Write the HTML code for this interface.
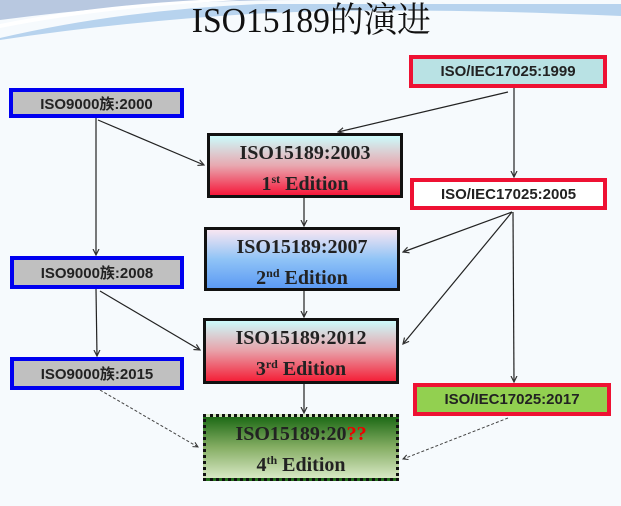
<!DOCTYPE html>
<html><head><meta charset="utf-8"><style>
body{margin:0;width:621px;height:506px;overflow:hidden;background:#f6fafd;position:relative;font-family:"Liberation Sans","Noto Sans CJK SC",sans-serif}
.b{position:absolute;box-sizing:border-box;display:flex;align-items:center;justify-content:center;font-weight:bold;font-size:15px;color:#222}
.blue{border:4px solid #0000f0;background:#c0c0c0}
.red{border:4px solid #ee1133}
.e{position:absolute;box-sizing:border-box;border:3px solid #111;font-family:"Liberation Serif",serif;font-weight:bold;color:#222;text-align:center;font-size:20px;line-height:31px;padding-top:2px}
sup{font-size:12px;line-height:0;vertical-align:7px}
.t{position:absolute;left:187px;width:240px;top:-7px;text-align:center;font-family:"Liberation Serif","Noto Serif CJK SC",serif;font-size:35px;color:#111;white-space:nowrap;transform:scaleX(0.96);transform-origin:center}
</style></head><body>
<svg width="621" height="506" style="position:absolute;left:0;top:0">
<defs><marker id="a" markerWidth="6" markerHeight="6" refX="5" refY="3" orient="auto"><path d="M0,0.5 L5,3 L0,5.5" fill="none" stroke="#333" stroke-width="1"/></marker></defs>
<path d="M0,20 Q150,0 300,0 L0,0Z" fill="#b8c8e0"/>
<path d="M0,38 Q120,10 260,4 L621,4 L621,16 Q400,6 250,14 Q120,22 0,40Z" fill="#b7d3ee"/>
<path d="M0,28 Q100,8 240,0 L200,0 Q90,6 0,24Z" fill="#ffffff"/>
<g stroke="#222" stroke-width="1.2" fill="none" marker-end="url(#a)">
<line x1="96" y1="118" x2="96" y2="255"/>
<line x1="98" y1="120" x2="204" y2="165"/>
<line x1="508" y1="92" x2="338" y2="132"/>
<line x1="514" y1="88" x2="514" y2="177"/>
<line x1="512" y1="212" x2="403" y2="252"/>
<line x1="512" y1="212" x2="403" y2="344"/>
<line x1="513" y1="212" x2="514" y2="382"/>
<line x1="304" y1="197" x2="304" y2="226"/>
<line x1="304" y1="291" x2="304" y2="317"/>
<line x1="304" y1="384" x2="304" y2="413"/>
<line x1="96" y1="289" x2="97" y2="356"/>
<line x1="100" y1="291" x2="200" y2="350"/>
</g>
<g stroke="#444" stroke-width="1" fill="none" stroke-dasharray="3,2" marker-end="url(#a)">
<line x1="100" y1="390" x2="198" y2="447"/>
<line x1="508" y1="418" x2="403" y2="459"/>
</g>
</svg>
<div class="t">ISO15189的演进</div>
<div class="b red" style="left:409px;top:55px;width:198px;height:33px;background:#b9e2e4">ISO/IEC17025:1999</div>
<div class="b blue" style="left:9px;top:88px;width:175px;height:30px">ISO9000族:2000</div>
<div class="b red" style="left:410px;top:178px;width:197px;height:32px;background:#fff">ISO/IEC17025:2005</div>
<div class="b blue" style="left:10px;top:256px;width:174px;height:33px">ISO9000族:2008</div>
<div class="b blue" style="left:10px;top:357px;width:174px;height:33px">ISO9000族:2015</div>
<div class="b red" style="left:413px;top:383px;width:198px;height:33px;background:#92d050">ISO/IEC17025:2017</div>
<div class="e" style="left:207px;top:133px;width:196px;height:65px;background:linear-gradient(#ccfbfb,#e8a8b0 50%,#f6183a)">ISO15189:2003<br>1<sup>st</sup> Edition</div>
<div class="e" style="left:204px;top:227px;width:196px;height:64px;background:linear-gradient(#f8e6f2,#90c4f6 50%,#5c9af4)">ISO15189:2007<br>2<sup>nd</sup> Edition</div>
<div class="e" style="left:203px;top:318px;width:196px;height:66px;background:linear-gradient(#ccfbfb,#e8a0a8 50%,#f42038)">ISO15189:2012<br>3<sup>rd</sup> Edition</div>
<div class="e" style="left:203px;top:414px;width:196px;height:67px;border:3px dotted #111;background:linear-gradient(#1d6a16,#86ae64 50%,#d7e8c4)">ISO15189:20<span style="color:#e00">??</span><br>4<sup>th</sup> Edition</div>
</body></html>
